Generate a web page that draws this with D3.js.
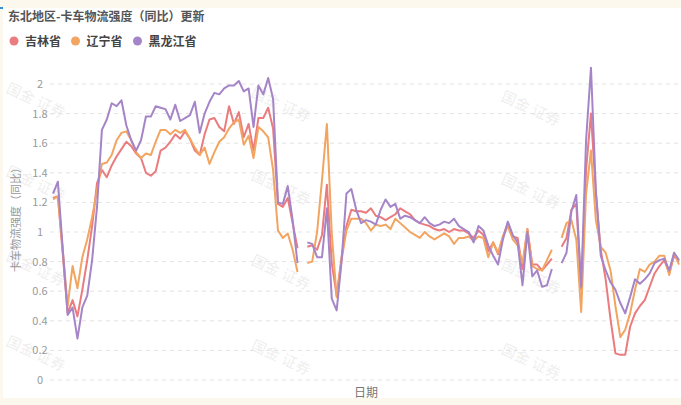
<!DOCTYPE html>
<html>
<head>
<meta charset="utf-8">
<script src="https://cdn.jsdelivr.net/npm/d3@7"></script>
<style>
  body { margin: 0; background: #fdf8ee; }
  svg { display: block; font-family: "Noto Sans CJK SC", "Noto Sans", sans-serif; }
</style>
</head>
<body>
<div id="chart"></div>
<script>
// 东北地区 卡车物流强度（同比），周度，三段之间各缺一周
var jilin = [1.23, 1.24, 0.85, 0.45, 0.54, 0.43, 0.61, 0.81, 1.04, 1.33,
  1.42, 1.37, 1.45, 1.51, 1.56, 1.61, 1.58, 1.53, 1.50, 1.40,
  1.38, 1.41, 1.55, 1.57, 1.61, 1.66, 1.63, 1.68, 1.63, 1.55,
  1.52, 1.66, 1.76, 1.77, 1.71, 1.68, 1.85, 1.73, 1.81, 1.64,
  1.73, 1.55, 1.77, 1.77, 1.84, 1.70, 1.19, 1.17, 1.23, 1.06,
  0.89, null, 0.90, 0.91, 0.88, 0.98, 1.32, 0.79, 0.57, 0.83,
  1.04, 1.15, 1.14, 1.14, 1.13, 1.16, 1.11, 1.10, 1.08, 1.10,
  1.12, 1.16, 1.14, 1.12, 1.08, 1.06, 1.05, 1.04, 1.02, 1.01,
  1.02, 1.00, 1.02, 1.01, 1.01, 0.99, 0.96, 1.01, 0.98, 0.87,
  0.93, 0.85, 0.97, 1.06, 0.97, 0.96, 0.75, 1.02, 0.78, 0.78,
  0.74, 0.78, 0.82, null, 0.90, 0.96, 1.15, 1.19, 0.61, 1.42,
  1.80, 1.26, 0.88, 0.68, 0.41, 0.18, 0.17, 0.17, 0.36, 0.45,
  0.50, 0.54, 0.63, 0.72, 0.77, 0.81, 0.72, 0.84, 0.80];

var liaoning = [1.22, 1.24, 0.88, 0.50, 0.77, 0.62, 0.83, 0.95, 1.10, 1.28,
  1.46, 1.47, 1.52, 1.62, 1.67, 1.68, 1.62, 1.54, 1.50, 1.53,
  1.52, 1.61, 1.69, 1.69, 1.66, 1.69, 1.67, 1.69, 1.63, 1.57,
  1.52, 1.57, 1.46, 1.54, 1.61, 1.64, 1.70, 1.74, 1.76, 1.59,
  1.65, 1.50, 1.71, 1.68, 1.64, 1.42, 1.01, 0.96, 0.99, 0.88,
  0.73, null, 0.79, 0.80, 1.00, 1.35, 1.73, 0.99, 0.56, 0.81,
  1.01, 1.09, 1.09, 1.09, 1.06, 1.01, 1.05, 1.04, 1.05, 1.02,
  1.09, 1.06, 1.03, 1.00, 0.98, 0.96, 1.00, 0.97, 0.95, 0.97,
  0.99, 0.97, 0.92, 0.96, 0.96, 0.97, 0.94, 0.97, 0.96, 0.83,
  0.93, 0.86, 0.97, 1.04, 0.95, 0.91, 0.79, 1.02, 0.77, 0.75,
  0.74, 0.81, 0.88, null, 0.96, 1.06, 1.08, 0.95, 0.46, 1.26,
  1.55, 1.08, 0.90, 0.86, 0.74, 0.50, 0.29, 0.34, 0.45, 0.61,
  0.75, 0.73, 0.78, 0.80, 0.84, 0.84, 0.71, 0.86, 0.78];

var heilongjiang = [1.26, 1.34, 0.88, 0.44, 0.49, 0.28, 0.49, 0.57, 0.81, 1.17,
  1.69, 1.76, 1.87, 1.85, 1.89, 1.72, 1.62, 1.55, 1.62, 1.78,
  1.78, 1.85, 1.84, 1.83, 1.76, 1.86, 1.75, 1.77, 1.79, 1.88,
  1.67, 1.80, 1.88, 1.94, 1.93, 1.97, 1.99, 1.99, 2.02, 1.95,
  1.97, 1.71, 1.99, 1.93, 2.04, 1.90, 1.20, 1.19, 1.31, 1.08,
  0.79, null, 0.93, 0.92, 0.83, 0.83, 1.16, 0.55, 0.47, 0.80,
  1.26, 1.29, 1.15, 1.06, 1.08, 1.07, 1.05, 1.15, 1.22, 1.17,
  1.19, 1.09, 1.11, 1.10, 1.08, 1.06, 1.10, 1.06, 1.04, 1.05,
  1.07, 1.06, 1.09, 1.04, 1.02, 1.00, 0.93, 1.04, 1.01, 0.91,
  0.84, 0.78, 0.95, 1.07, 0.98, 0.93, 0.64, 1.00, 0.70, 0.74,
  0.63, 0.64, 0.75, null, 0.79, 0.86, 1.14, 1.25, 0.63, 1.62,
  2.11, 1.28, 0.84, 0.74, 0.66, 0.61, 0.52, 0.45, 0.56, 0.68,
  0.65, 0.68, 0.72, 0.79, 0.81, 0.82, 0.74, 0.86, 0.81];

var seriesNames = ['吉林省', '辽宁省', '黑龙江省'];
var seriesColors = ['#ea7b7e', '#f2a461', '#a585c8'];
var yTicks = [0, 0.2, 0.4, 0.6, 0.8, 1, 1.2, 1.4, 1.6, 1.8, 2];
var weeks = d3.range(jilin.length);

var W = 681, H = 405;
var svg = d3.select('#chart').append('svg')
    .attr('width', W)
    .attr('height', H);

// white panel on the cream page
svg.append('rect')
    .attr('x', 3).attr('y', 8)
    .attr('width', W - 3).attr('height', 390)
    .attr('fill', '#fff');
svg.append('rect')
    .attr('x', 0).attr('y', 7)
    .attr('width', 3).attr('height', 2)
    .attr('fill', '#2f8fd8');

var x = d3.scaleLinear().domain([0, weeks.length - 1]).range([53, 679]);
var y = d3.scaleLinear().domain([0, 2]).range([380, 84]);

// watermark
var wm = svg.append('g').attr('fill', '#000').attr('fill-opacity', 0.06)
    .style('font-size', '15px').style('font-weight', 'bold');
[5, 250, 500].forEach(function(cx, ci) {
  [92, 175, 260, 345].forEach(function(cy) {
    wm.append('text')
        .attr('transform', 'translate(' + cx + ',' + (cy + ci * 4) + ') rotate(25)')
        .text('国金  证券');
  });
});

// grid
svg.append('g')
    .selectAll('line')
    .data(yTicks)
    .enter().append('line')
        .attr('x1', 50)
        .attr('x2', W)
        .attr('y1', function(d) { return y(d); })
        .attr('y2', function(d) { return y(d); })
        .attr('stroke', '#e3e3e3')
        .attr('stroke-dasharray', '4,4');

svg.append('g')
    .selectAll('text')
    .data(yTicks)
    .enter().append('text')
        .attr('x', 40)
        .attr('y', function(d) { return y(d) + 4; })
        .attr('text-anchor', 'middle')
        .attr('fill', '#999')
        .style('font-size', '11px')
        .text(function(d) { return d; });

// axis titles
svg.append('text')
    .attr('transform', 'translate(20,217) rotate(-90)')
    .attr('text-anchor', 'middle')
    .attr('fill', '#999')
    .style('font-size', '11px')
    .text('卡车物流强度（同比）');

svg.append('text')
    .attr('x', 366)
    .attr('y', 397)
    .attr('text-anchor', 'middle')
    .attr('fill', '#777')
    .style('font-size', '12px')
    .text('日期');

// lines
var line = d3.line()
    .defined(function(d) { return d != null; })
    .x(function(d, i) { return x(weeks[i]); })
    .y(function(d) { return y(d); });

[jilin, liaoning, heilongjiang].forEach(function(s, k) {
  svg.append('path')
      .datum(s)
      .attr('d', line)
      .attr('fill', 'none')
      .attr('stroke', seriesColors[k])
      .attr('stroke-width', 2)
      .attr('stroke-linejoin', 'round');
});

// title and legend
svg.append('text')
    .attr('x', 8)
    .attr('y', 21)
    .attr('fill', '#555')
    .style('font-size', '12px')
    .style('font-weight', 'bold')
    .text('东北地区-卡车物流强度（同比）更新');

var legendX = [14, 75.5, 137.5];
var legend = svg.append('g')
    .selectAll('g')
    .data(seriesNames)
    .enter().append('g')
        .attr('transform', function(d, i) { return 'translate(' + legendX[i] + ',41)'; });
legend.append('circle')
    .attr('r', 4.5)
    .attr('fill', function(d, i) { return seriesColors[i]; });
legend.append('text')
    .attr('x', 11)
    .attr('y', 4.5)
    .attr('fill', '#444')
    .style('font-size', '12px')
    .style('font-weight', 'bold')
    .text(function(d) { return d; });
</script>
</body>
</html>
